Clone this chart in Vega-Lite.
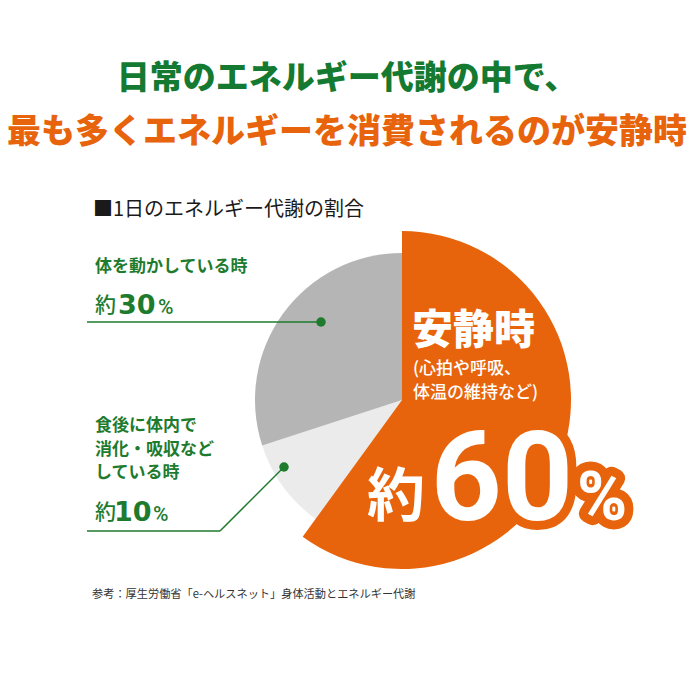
{
  "$schema": "https://vega.github.io/schema/vega-lite/v6.json",
  "width": 694,
  "height": 506,
  "autosize": {"type": "none"},
  "padding": {"left": 0, "right": 0, "top": 170, "bottom": 0},
  "background": "white",
  "config": {"view": {"stroke": null}, "font": "Noto Sans CJK JP"},
  "title": {
    "text": "日常のエネルギー代謝の中で、",
    "subtitle": "最も多くエネルギーを消費されるのが安静時",
    "anchor": "middle",
    "font": "Noto Sans CJK JP",
    "fontSize": 33,
    "fontWeight": 900,
    "color": "#147A32",
    "subtitleFont": "Noto Sans CJK JP",
    "subtitleFontSize": 34,
    "subtitleFontWeight": 900,
    "subtitleColor": "#E8640C",
    "subtitlePadding": 20,
    "offset": 20
  },
  "datasets": {
    "energy": [
      {"activity": "安静時", "share": 60, "rank": 1},
      {"activity": "食後に体内で消化・吸収などしている時", "share": 10, "rank": 2},
      {"activity": "体を動かしている時", "share": 30, "rank": 3}
    ]
  },
  "layer": [
    {
      "data": {"name": "energy"},
      "transform": [
        {"stack": "share", "groupby": [], "sort": [{"field": "rank", "order": "ascending"}], "as": ["t0", "t1"]},
        {"filter": "datum.rank > 1"}
      ],
      "mark": {"type": "arc", "outerRadius": 147},
      "encoding": {
        "theta": {"field": "t0", "type": "quantitative", "scale": {"domain": [0, 100]}},
        "theta2": {"field": "t1"},
        "color": {"field": "activity", "type": "nominal", "legend": null,
          "scale": {"domain": ["安静時", "食後に体内で消化・吸収などしている時", "体を動かしている時"], "range": ["#E8640C", "#EAEBEA", "#B4B5B4"]}},
        "x": {"datum": 0, "type": "quantitative", "scale": {"domain": [-402, 292], "nice": false, "zero": false}, "axis": null},
        "y": {"datum": 0, "type": "quantitative", "scale": {"domain": [-276, 230], "nice": false, "zero": false}, "axis": null}
      }
    },
    {
      "data": {"name": "energy"},
      "transform": [
        {"stack": "share", "groupby": [], "sort": [{"field": "rank", "order": "ascending"}], "as": ["t0", "t1"]},
        {"filter": "datum.rank === 1"}
      ],
      "mark": {"type": "arc", "outerRadius": 169},
      "encoding": {
        "theta": {"field": "t0", "type": "quantitative", "scale": {"domain": [0, 100]}},
        "theta2": {"field": "t1"},
        "color": {"field": "activity", "type": "nominal", "legend": null},
        "x": {"datum": 0, "type": "quantitative", "scale": {"domain": [-402, 292], "nice": false, "zero": false}, "axis": null},
        "y": {"datum": 0, "type": "quantitative", "scale": {"domain": [-276, 230], "nice": false, "zero": false}, "axis": null}
      }
    },
    {
      "data": {"values": [{}]},
      "mark": {"type": "rule", "color": "#1E7B2E", "strokeWidth": 1.5},
      "encoding": {
        "x": {"datum": -315, "type": "quantitative", "scale": {"domain": [-402, 292], "nice": false, "zero": false}, "axis": null},
        "y": {"datum": 78, "type": "quantitative", "scale": {"domain": [-276, 230], "nice": false, "zero": false}, "axis": null},
        "x2": {"datum": -81},
        "y2": {"datum": 78}
      }
    },
    {
      "data": {"values": [{}]},
      "mark": {"type": "rule", "color": "#1E7B2E", "strokeWidth": 1.5},
      "encoding": {
        "x": {"datum": -315, "type": "quantitative", "scale": {"domain": [-402, 292], "nice": false, "zero": false}, "axis": null},
        "y": {"datum": -131, "type": "quantitative", "scale": {"domain": [-276, 230], "nice": false, "zero": false}, "axis": null},
        "x2": {"datum": -182},
        "y2": {"datum": -131}
      }
    },
    {
      "data": {"values": [{}]},
      "mark": {"type": "rule", "color": "#1E7B2E", "strokeWidth": 1.5},
      "encoding": {
        "x": {"datum": -182, "type": "quantitative", "scale": {"domain": [-402, 292], "nice": false, "zero": false}, "axis": null},
        "y": {"datum": -131, "type": "quantitative", "scale": {"domain": [-276, 230], "nice": false, "zero": false}, "axis": null},
        "x2": {"datum": -118},
        "y2": {"datum": -67}
      }
    },
    {
      "data": {"values": [{}]},
      "mark": {"type": "point", "filled": true, "size": 90, "color": "#1E7B2E", "opacity": 1},
      "encoding": {
        "x": {"datum": -81, "type": "quantitative", "scale": {"domain": [-402, 292], "nice": false, "zero": false}, "axis": null},
        "y": {"datum": 78, "type": "quantitative", "scale": {"domain": [-276, 230], "nice": false, "zero": false}, "axis": null}
      }
    },
    {
      "data": {"values": [{}]},
      "mark": {"type": "point", "filled": true, "size": 90, "color": "#1E7B2E", "opacity": 1},
      "encoding": {
        "x": {"datum": -118, "type": "quantitative", "scale": {"domain": [-402, 292], "nice": false, "zero": false}, "axis": null},
        "y": {"datum": -67, "type": "quantitative", "scale": {"domain": [-276, 230], "nice": false, "zero": false}, "axis": null}
      }
    },
    {
      "data": {"values": [{}]},
      "mark": {"type": "text", "text": "■1日のエネルギー代謝の割合", "align": "left", "baseline": "alphabetic", "fontSize": 20, "color": "#1A1A1A", "font": "Noto Sans CJK JP"},
      "encoding": {
        "x": {"datum": -309, "type": "quantitative", "scale": {"domain": [-402, 292], "nice": false, "zero": false}, "axis": null},
        "y": {"datum": 184, "type": "quantitative", "scale": {"domain": [-276, 230], "nice": false, "zero": false}, "axis": null}
      }
    },
    {
      "data": {"values": [{}]},
      "mark": {"type": "text", "text": "体を動かしている時", "align": "left", "baseline": "alphabetic", "fontSize": 17, "fontWeight": "bold", "color": "#1E7B2E", "font": "Noto Sans CJK JP"},
      "encoding": {
        "x": {"datum": -307, "type": "quantitative", "scale": {"domain": [-402, 292], "nice": false, "zero": false}, "axis": null},
        "y": {"datum": 128, "type": "quantitative", "scale": {"domain": [-276, 230], "nice": false, "zero": false}, "axis": null}
      }
    },
    {
      "data": {"values": [{}]},
      "mark": {"type": "text", "text": "約", "align": "left", "baseline": "alphabetic", "fontSize": 21, "fontWeight": 500, "color": "#1E7B2E", "font": "Noto Sans CJK JP"},
      "encoding": {
        "x": {"datum": -307, "type": "quantitative", "scale": {"domain": [-402, 292], "nice": false, "zero": false}, "axis": null},
        "y": {"datum": 88, "type": "quantitative", "scale": {"domain": [-276, 230], "nice": false, "zero": false}, "axis": null}
      }
    },
    {
      "data": {"values": [{}]},
      "mark": {"type": "text", "text": "30", "align": "left", "baseline": "alphabetic", "fontSize": 27, "fontWeight": "bold", "color": "#1E7B2E", "font": "DejaVu Sans"},
      "encoding": {
        "x": {"datum": -284, "type": "quantitative", "scale": {"domain": [-402, 292], "nice": false, "zero": false}, "axis": null},
        "y": {"datum": 86, "type": "quantitative", "scale": {"domain": [-276, 230], "nice": false, "zero": false}, "axis": null}
      }
    },
    {
      "data": {"values": [{}]},
      "mark": {"type": "text", "text": "%", "align": "left", "baseline": "alphabetic", "fontSize": 21, "fontWeight": 500, "color": "#1E7B2E", "font": "Roboto"},
      "encoding": {
        "x": {"datum": -244, "type": "quantitative", "scale": {"domain": [-402, 292], "nice": false, "zero": false}, "axis": null},
        "y": {"datum": 86, "type": "quantitative", "scale": {"domain": [-276, 230], "nice": false, "zero": false}, "axis": null}
      }
    },
    {
      "data": {"values": [{}]},
      "mark": {"type": "text", "text": ["食後に体内で", "消化・吸収など", "している時"], "lineHeight": 23.5, "align": "left", "baseline": "alphabetic", "fontSize": 17, "fontWeight": "bold", "color": "#1E7B2E", "font": "Noto Sans CJK JP"},
      "encoding": {
        "x": {"datum": -307, "type": "quantitative", "scale": {"domain": [-402, 292], "nice": false, "zero": false}, "axis": null},
        "y": {"datum": -31, "type": "quantitative", "scale": {"domain": [-276, 230], "nice": false, "zero": false}, "axis": null}
      }
    },
    {
      "data": {"values": [{}]},
      "mark": {"type": "text", "text": "約", "align": "left", "baseline": "alphabetic", "fontSize": 21, "fontWeight": 500, "color": "#1E7B2E", "font": "Noto Sans CJK JP"},
      "encoding": {
        "x": {"datum": -307, "type": "quantitative", "scale": {"domain": [-402, 292], "nice": false, "zero": false}, "axis": null},
        "y": {"datum": -119, "type": "quantitative", "scale": {"domain": [-276, 230], "nice": false, "zero": false}, "axis": null}
      }
    },
    {
      "data": {"values": [{}]},
      "mark": {"type": "text", "text": "10", "align": "left", "baseline": "alphabetic", "fontSize": 27, "fontWeight": "bold", "color": "#1E7B2E", "font": "DejaVu Sans"},
      "encoding": {
        "x": {"datum": -288, "type": "quantitative", "scale": {"domain": [-402, 292], "nice": false, "zero": false}, "axis": null},
        "y": {"datum": -121, "type": "quantitative", "scale": {"domain": [-276, 230], "nice": false, "zero": false}, "axis": null}
      }
    },
    {
      "data": {"values": [{}]},
      "mark": {"type": "text", "text": "%", "align": "left", "baseline": "alphabetic", "fontSize": 21, "fontWeight": 500, "color": "#1E7B2E", "font": "Roboto"},
      "encoding": {
        "x": {"datum": -249, "type": "quantitative", "scale": {"domain": [-402, 292], "nice": false, "zero": false}, "axis": null},
        "y": {"datum": -121, "type": "quantitative", "scale": {"domain": [-276, 230], "nice": false, "zero": false}, "axis": null}
      }
    },
    {
      "data": {"values": [{}]},
      "mark": {"type": "text", "text": "安静時", "align": "left", "baseline": "alphabetic", "fontSize": 41, "fontWeight": 900, "color": "white", "font": "Noto Sans CJK JP"},
      "encoding": {
        "x": {"datum": 10, "type": "quantitative", "scale": {"domain": [-402, 292], "nice": false, "zero": false}, "axis": null},
        "y": {"datum": 56, "type": "quantitative", "scale": {"domain": [-276, 230], "nice": false, "zero": false}, "axis": null}
      }
    },
    {
      "data": {"values": [{}]},
      "mark": {"type": "text", "text": ["(心拍や呼吸、", "体温の維持など)"], "lineHeight": 24, "align": "left", "baseline": "alphabetic", "fontSize": 17, "fontWeight": 500, "color": "white", "font": "Noto Sans CJK JP"},
      "encoding": {
        "x": {"datum": 11, "type": "quantitative", "scale": {"domain": [-402, 292], "nice": false, "zero": false}, "axis": null},
        "y": {"datum": 26, "type": "quantitative", "scale": {"domain": [-276, 230], "nice": false, "zero": false}, "axis": null}
      }
    },
    {
      "data": {"values": [{}]},
      "mark": {"type": "text", "text": "約", "align": "left", "baseline": "alphabetic", "fontSize": 58, "fontWeight": "bold", "color": "#E8640C", "stroke": "#E8640C", "strokeWidth": 18, "strokeJoin": "round", "font": "Noto Sans CJK JP"},
      "encoding": {
        "x": {"datum": -35, "type": "quantitative", "scale": {"domain": [-402, 292], "nice": false, "zero": false}, "axis": null},
        "y": {"datum": -116, "type": "quantitative", "scale": {"domain": [-276, 230], "nice": false, "zero": false}, "axis": null}
      }
    },
    {
      "data": {"values": [{}]},
      "mark": {"type": "text", "text": "60", "align": "center", "baseline": "alphabetic", "fontSize": 124, "fontWeight": "bold", "color": "#E8640C", "stroke": "#E8640C", "strokeWidth": 18, "strokeJoin": "round", "font": "Roboto"},
      "encoding": {
        "x": {"datum": 100, "type": "quantitative", "scale": {"domain": [-402, 292], "nice": false, "zero": false}, "axis": null},
        "y": {"datum": -120, "type": "quantitative", "scale": {"domain": [-276, 230], "nice": false, "zero": false}, "axis": null}
      }
    },
    {
      "data": {"values": [{}]},
      "mark": {"type": "text", "text": "%", "align": "left", "baseline": "alphabetic", "fontSize": 68, "fontWeight": "bold", "color": "#E8640C", "stroke": "#E8640C", "strokeWidth": 18, "strokeJoin": "round", "font": "Roboto"},
      "encoding": {
        "x": {"datum": 175, "type": "quantitative", "scale": {"domain": [-402, 292], "nice": false, "zero": false}, "axis": null},
        "y": {"datum": -120, "type": "quantitative", "scale": {"domain": [-276, 230], "nice": false, "zero": false}, "axis": null}
      }
    },
    {
      "data": {"values": [{}]},
      "mark": {"type": "text", "text": "約", "align": "left", "baseline": "alphabetic", "fontSize": 58, "fontWeight": "bold", "color": "white", "font": "Noto Sans CJK JP"},
      "encoding": {
        "x": {"datum": -35, "type": "quantitative", "scale": {"domain": [-402, 292], "nice": false, "zero": false}, "axis": null},
        "y": {"datum": -116, "type": "quantitative", "scale": {"domain": [-276, 230], "nice": false, "zero": false}, "axis": null}
      }
    },
    {
      "data": {"values": [{}]},
      "mark": {"type": "text", "text": "60", "align": "center", "baseline": "alphabetic", "fontSize": 124, "fontWeight": "bold", "color": "white", "font": "Roboto"},
      "encoding": {
        "x": {"datum": 100, "type": "quantitative", "scale": {"domain": [-402, 292], "nice": false, "zero": false}, "axis": null},
        "y": {"datum": -120, "type": "quantitative", "scale": {"domain": [-276, 230], "nice": false, "zero": false}, "axis": null}
      }
    },
    {
      "data": {"values": [{}]},
      "mark": {"type": "text", "text": "%", "align": "left", "baseline": "alphabetic", "fontSize": 68, "fontWeight": "bold", "color": "white", "font": "Roboto"},
      "encoding": {
        "x": {"datum": 175, "type": "quantitative", "scale": {"domain": [-402, 292], "nice": false, "zero": false}, "axis": null},
        "y": {"datum": -120, "type": "quantitative", "scale": {"domain": [-276, 230], "nice": false, "zero": false}, "axis": null}
      }
    },
    {
      "data": {"values": [{}]},
      "mark": {"type": "text", "text": "参考：厚生労働省「e-ヘルスネット」身体活動とエネルギー代謝", "align": "left", "baseline": "alphabetic", "fontSize": 11.2, "color": "#333333", "font": "Noto Sans CJK JP"},
      "encoding": {
        "x": {"datum": -310, "type": "quantitative", "scale": {"domain": [-402, 292], "nice": false, "zero": false}, "axis": null},
        "y": {"datum": -198, "type": "quantitative", "scale": {"domain": [-276, 230], "nice": false, "zero": false}, "axis": null}
      }
    }
  ]
}
